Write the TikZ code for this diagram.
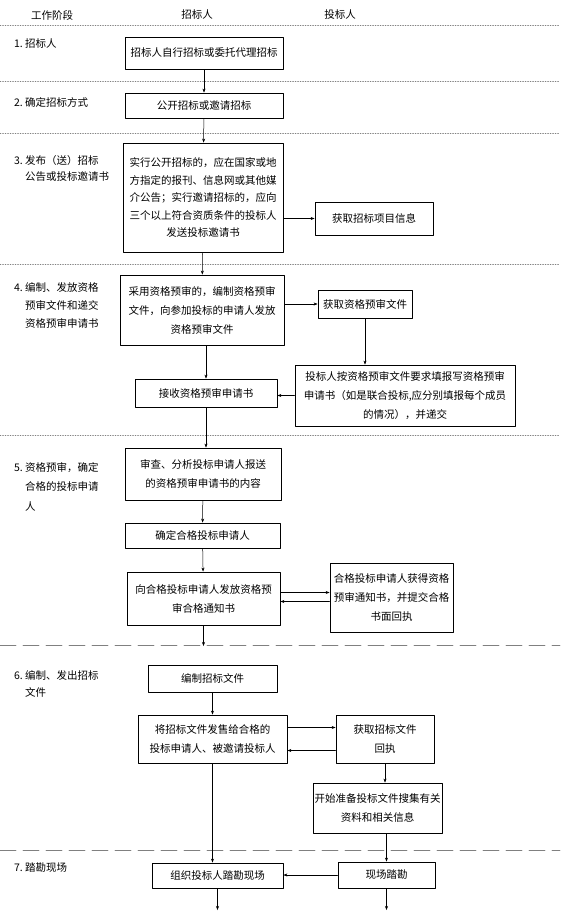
\documentclass[tikz,border=0pt]{standalone}
\usepackage{fontspec}
\setmainfont{Noto Sans CJK SC}
\usetikzlibrary{arrows.meta}

\tikzset{
  stepbox/.style={draw, line width=0.8pt, align=center, inner sep=0pt,
    font=\fontsize{10.5}{19}\selectfont},
  boxsize/.style 2 args={minimum width=#1pt, minimum height=#2pt},
  head/.style={inner sep=0pt, font=\fontsize{10.5}{12}\selectfont},
  stagetext/.style={anchor=north west, align=left, inner sep=0pt,
    font=\fontsize{10.5}{18}\selectfont},
  flow/.style={->, line width=0.5pt},
  sepdot/.style={gray, line width=0.5pt, dash pattern=on 1pt off 1.5pt},
  sepdash/.style={gray, line width=0.6pt, dash pattern=on 16pt off 7pt},
}

\begin{document}
\begin{tikzpicture}[x=1pt, y=-1pt, >={Stealth[length=4pt,width=3pt]},
    line cap=round, line join=round]
\useasboundingbox (0,0) rectangle (560,919);

% Column headings
\node[head] (hstage) at (52,15)  {工作阶段};
\node[head] (howner) at (197,15) {招标人};
\node[head] (hbid)   at (340,15) {投标人};

% Stage separators
\foreach \y in {25,81,133,264,435}
  \draw[sepdot] (0,\y) -- (560,\y);
\foreach \y in {645,850}
  \draw[sepdash] (0,\y) -- (560,\y);

% Stage names
\node[stagetext] (s1) at (25,38)  {\llap{1.\ }招标人};
\node[stagetext] (s2) at (25,97)  {\llap{2.\ }确定招标方式};
\node[stagetext, font=\fontsize{10.5}{16}\selectfont] (s3) at (25,155)
    {\llap{3.\ }发布（送）招标\\公告或投标邀请书};
\node[stagetext] (s4) at (25,282)
    {\llap{4.\ }编制、发放资格\\预审文件和递交\\资格预审申请书};
\node[stagetext, font=\fontsize{10.5}{19.5}\selectfont] (s5) at (25,462)
    {\llap{5.\ }资格预审，确定\\合格的投标申请\\人};
\node[stagetext, font=\fontsize{10.5}{17}\selectfont] (s6) at (25,670)
    {\llap{6.\ }编制、发出招标\\文件};
\node[stagetext] (s7) at (25,862) {\llap{7.\ }踏勘现场};

% Tenderer column
\node[stepbox, boxsize={158}{32}] (b1) at (204,53) {招标人自行招标或委托代理招标};
\node[stepbox, boxsize={158}{25}] (b2) at (204,105.5) {公开招标或邀请招标};
\node[stepbox, boxsize={160}{109}, font=\fontsize{10.5}{17.5}\selectfont] (b3) at (203,197.5)
    {实行公开招标的，应在国家或地\\方指定的报刊、信息网或其他媒\\介公告；实行邀请招标的，应向\\三个以上符合资质条件的投标人\\发送投标邀请书};
\node[stepbox, boxsize={164}{70}] (b4) at (202,310)
    {采用资格预审的，编制资格预审\\文件，向参加投标的申请人发放\\资格预审文件};
\node[stepbox, boxsize={142}{28}] (recv) at (206,393) {接收资格预审申请书};
\node[stepbox, boxsize={156}{52}] (b5) at (203,474)
    {审查、分析投标申请人报送\\的资格预审申请书的内容};
\node[stepbox, boxsize={155}{25}] (b6) at (202.5,535.5) {确定合格投标申请人};
\node[stepbox, boxsize={153}{53}] (b7) at (203.5,598.5)
    {向合格投标申请人发放资格预\\审合格通知书};
\node[stepbox, boxsize={129}{27}] (b8) at (212.5,678.5) {编制招标文件};
\node[stepbox, boxsize={149}{48}] (b9) at (212.5,739)
    {将招标文件发售给合格的\\投标申请人、被邀请投标人};
\node[stepbox, boxsize={131}{25}] (b10) at (217.5,875.5) {组织投标人踏勘现场};

% Bidder column
\node[stepbox, boxsize={118}{33}] (info) at (374,218.5) {获取招标项目信息};
\node[stepbox, boxsize={94}{28}] (getdoc) at (365,304) {获取资格预审文件};
\node[stepbox, boxsize={220}{61}] (fill) at (405,395.5)
    {投标人按资格预审文件要求填报写资格预审\\申请书（如是联合投标,应分别填报每个成员\\的情况），并递交};
\node[stepbox, boxsize={123}{69}] (notice) at (391.5,597.5)
    {合格投标申请人获得资格\\预审通知书，并提交合格\\书面回执};
\node[stepbox, boxsize={98}{48}] (getbid) at (385,739) {获取招标文件\\回执};
\node[stepbox, boxsize={129}{50}] (prep) at (377.5,808)
    {开始准备投标文件搜集有关\\资料和相关信息};
\node[stepbox, boxsize={97}{26}] (site) at (386.5,875) {现场踏勘};

% Free ends
\coordinate (cut6) at (207,646);
\coordinate (out1) at (213,910);
\coordinate (out2) at (387,910);

% Main flow
\draw[flow] (b1) -- (b2);
\draw[flow] (b2) -- (b3);
\draw[flow] (b3) -- (b4);
\draw[flow] (recv.north |- b4.south) -- (recv.north);
\draw[flow] (recv.south) -- (recv.south |- b5.north);
\draw[flow] (b5) -- (b6);
\draw[flow] (b6) -- (b7);
\draw[flow] (b7.south) -- (b7.south |- cut6);
\draw[flow] (b8) -- (b9);
\draw[flow] (b9.south) -- (b9.south |- b10.north);
\draw[flow] (b10.south) -- (b10.south |- out1);

% Between the two parties
\draw[flow] (b3.east |- info) -- (info.west);
\draw[flow] (b4.east |- getdoc) -- (getdoc.west);
\draw[flow] (getdoc.south) -- (getdoc.south |- fill.north);
\draw[flow] (fill.west) -- (fill.west -| recv.east);
\draw[flow] ([yshift=6pt]b7.east) -- ([yshift=6pt]b7.east -| notice.west);
\draw[flow] ([yshift=-4pt]notice.west) -- ([yshift=-4pt]notice.west -| b7.east);
\draw[flow] ([yshift=11.5pt]b9.east) -- ([yshift=11.5pt]b9.east -| getbid.west);
\draw[flow] ([yshift=-11.5pt]getbid.west) -- ([yshift=-11.5pt]getbid.west -| b9.east);
\draw[flow] (getbid.south) -- (getbid.south |- prep.north);
\draw[flow] (site.north |- prep.south) -- (site.north);
\draw[flow] (site.west) -- (site.west -| b10.east);
\draw[flow] (site.south) -- (site.south |- out2);

\end{tikzpicture}
\end{document}
